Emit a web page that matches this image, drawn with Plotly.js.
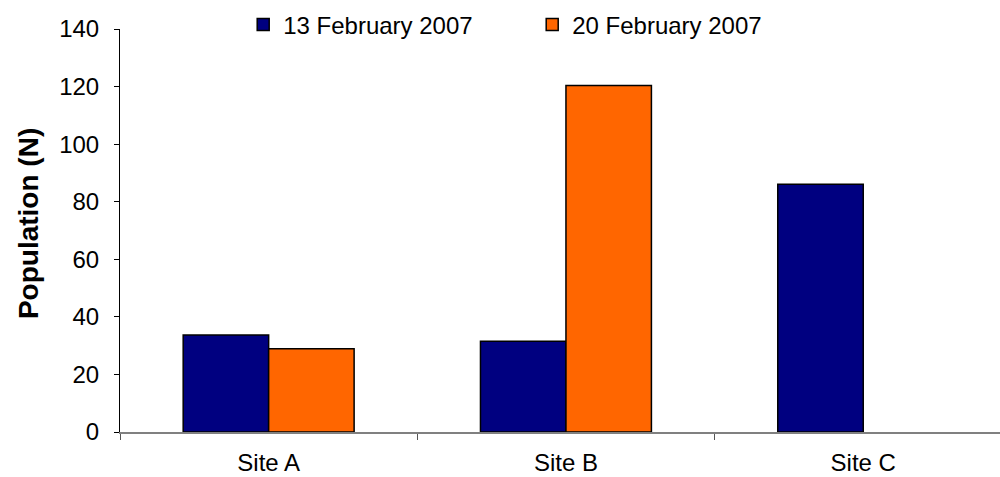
<!DOCTYPE html>
<html>
<head>
<meta charset="utf-8">
<script src="https://cdn.plot.ly/plotly-3.0.1.min.js"></script>
<style>html,body{margin:0;padding:0;background:#fff;}#chart{width:1000px;height:477px;}</style>
</head>
<body>
<div id="chart"></div>
<script>
const categories = ["Site A", "Site B", "Site C"];
const seriesNames = ["13 February 2007", "20 February 2007"];
const feb13 = [33.7, 31.5, 86.1];
const feb20 = [28.9, 120.4, null];
const yTicks = [0, 20, 40, 60, 80, 100, 120, 140];
const yTitle = "Population (N)";

const FONT = "Liberation Sans, Arial, sans-serif";
const traces = [
  {type: "bar", name: seriesNames[0], x: categories, y: feb13,
   marker: {color: "#000080", line: {color: "#000000", width: 1.5}}},
  {type: "bar", name: seriesNames[1], x: categories, y: feb20,
   marker: {color: "#FF6600", line: {color: "#000000", width: 1.5}}}
];
const layout = {
  width: 1000, height: 477,
  margin: {l: 120, r: 0, t: 29, b: 45, pad: 0, autoexpand: false},
  paper_bgcolor: "#ffffff", plot_bgcolor: "#ffffff",
  font: {family: FONT, size: 24, color: "#000000"},
  barmode: "group", bargap: 0.425, bargroupgap: 0,
  showlegend: true,
  legend: {orientation: "h", x: 0.14, xanchor: "left", y: 1.01, yanchor: "middle",
           font: {family: FONT, size: 24, color: "#000"}, entrywidth: 244, entrywidthmode: "pixels",
           bgcolor: "rgba(0,0,0,0)", borderwidth: 0},
  xaxis: {type: "category", range: [-0.5, 2.46], showgrid: false, zeroline: false,
          showline: true, linecolor: "#808080", linewidth: 1.5,
          ticks: "outside", tickson: "boundaries", ticklen: 6, tickcolor: "#555", tickwidth: 1,
          ticklabelstandoff: 9, tickfont: {family: FONT, size: 24, color: "#000"}},
  yaxis: {range: [0, 140], tickvals: yTicks, showgrid: false, zeroline: false,
          showline: true, linecolor: "#000", linewidth: 1,
          ticks: "outside", ticklen: 5, tickcolor: "#000", tickwidth: 1,
          ticklabelstandoff: 10, tickfont: {family: FONT, size: 24, color: "#000"}},
  annotations: [{text: "<b>" + yTitle + "</b>", xref: "paper", yref: "paper",
                 x: -0.1045, y: 0.516, xanchor: "center", yanchor: "middle", textangle: -90,
                 showarrow: false, font: {family: FONT, size: 28, color: "#000"}}]
};
Plotly.newPlot("chart", traces, layout, {displayModeBar: false, staticPlot: true});
</script>
</body>
</html>
